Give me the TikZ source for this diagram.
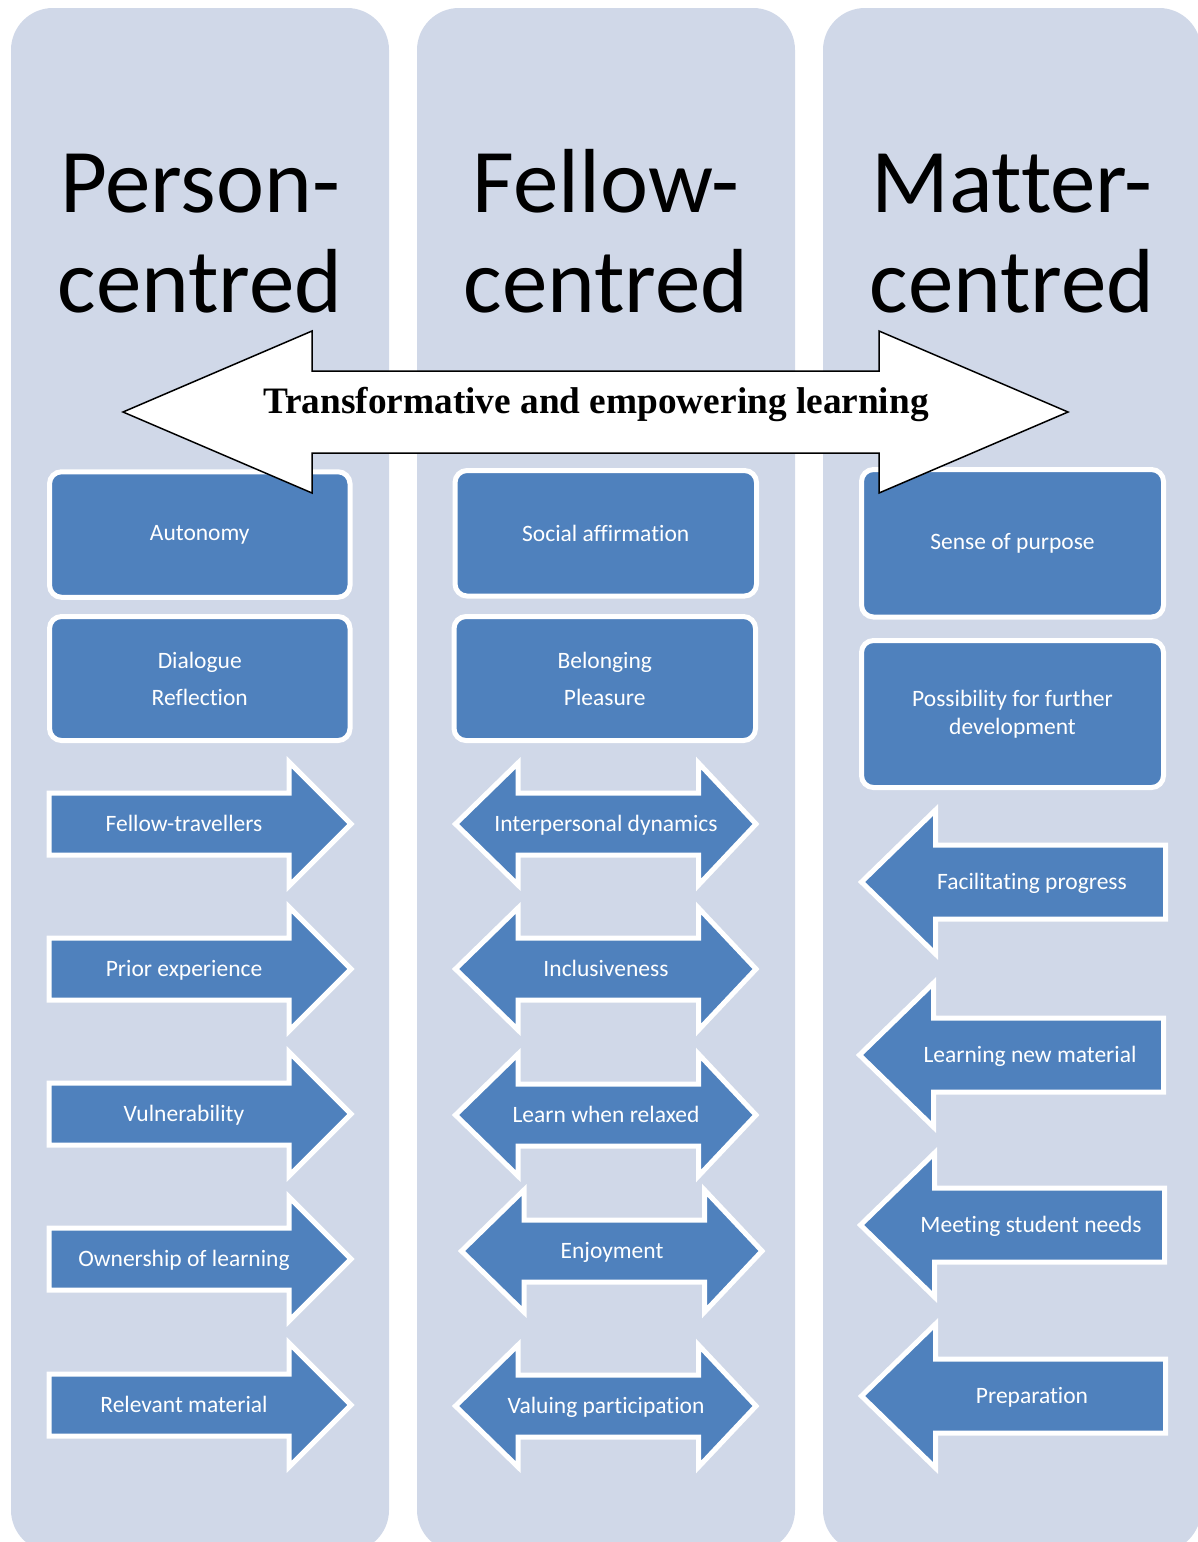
\documentclass[tikz,border=0pt]{standalone}
\usepackage{fontspec}
\setmainfont{Carlito}[Ligatures=NoCommon]
\newfontfamily\banfont{Liberation Serif}
\definecolor{panelc}{HTML}{D0D8E8}
\definecolor{boxc}{HTML}{4F81BD}
\newcommand\lblfont{\fontsize{23.5}{28}\selectfont}
\tikzset{
  panel/.style={fill=panelc, rounded corners=42pt},
  title/.style={font=\fontsize{91}{100}\selectfont, align=center, inner sep=0pt, text=black},
  box/.style={fill=boxc, draw=white, line width=5pt, rounded corners=12pt, text=white,
    font=\lblfont, align=center, inner sep=0pt},
  arrowshape/.style={fill=boxc, draw=white, line width=5pt, line join=miter},
  lbl/.style={text=white, font=\lblfont, inner sep=0pt, anchor=base},
  banner/.style={fill=white, draw=black, line width=1.5pt, line join=miter},
}
\newcommand\RArr[3]{%
  \path[arrowshape] (49,#1-31) -- (289,#1-31) -- (289,#1-62) -- (351,#1) -- (289,#1+62) -- (289,#1+31) -- (49,#1+31) -- cycle;
  \node[lbl] (#2) at (184,#1+7.5) {#3};}
\newcommand\DArr[4]{%
  \path[arrowshape] (455.5+#1,#2) -- (518+#1,#2-61) -- (518+#1,#2-31) -- (698.5+#1,#2-31) -- (698.5+#1,#2-61) -- (756+#1,#2) -- (698.5+#1,#2+61) -- (698.5+#1,#2+31) -- (518+#1,#2+31) -- (518+#1,#2+61) -- cycle;
  \node[lbl] (#3) at (606+#1,#2+7.5) {#4};}
\newcommand\LArr[4]{%
  \path[arrowshape] (861.5+#1,#2) -- (935.5+#1,#2-72) -- (935.5+#1,#2-37) -- (1165.5+#1,#2-37) -- (1165.5+#1,#2+37) -- (935.5+#1,#2+37) -- (935.5+#1,#2+72) -- cycle;
  \node[lbl] (#3) at (1032+#1,#2+7.5) {#4};}
\begin{document}
\begin{tikzpicture}[x=1pt,y=-1pt]
\useasboundingbox (0,0) rectangle (1198,1542);
\clip (0,0) rectangle (1198,1542);
\fill[white] (0,0) rectangle (1198,1542);
% panels
\fill[panel] (11,8) rectangle (389,1552);
\fill[panel] (417,8) rectangle (795,1552);
\fill[panel] (823,8) rectangle (1201,1552);
% titles
\node[title] (tperson) at (200,228) {\rule{0pt}{70pt}Person-\\centred};
\node[title] (tfellow) at (606,228) {\rule{0pt}{70pt}Fellow-\\centred};
\node[title] (tmatter) at (1012,228) {\rule{0pt}{70pt}Matter-\\centred};
% boxes
\node[box, minimum width=300.5pt, minimum height=125.5pt] (autonomy) at (199.75,534.5) {Autonomy};
\node[box, minimum width=300.5pt, minimum height=124pt, font=\fontsize{23.5}{37}\selectfont] (dialogue) at (199.75,678.5) {Dialogue\\Reflection};
\node[box, minimum width=301.5pt, minimum height=125.5pt] (social) at (605.75,533.25) {Social affirmation};
\node[box, minimum width=301.5pt, minimum height=124pt, font=\fontsize{23.5}{37}\selectfont] (belonging) at (604.75,678.5) {Belonging\\Pleasure};
\node[box, minimum width=302pt, minimum height=147.5pt] (purpose) at (1012.5,543.25) {Sense of purpose};
\node[box, minimum width=302pt, minimum height=147pt] (possibility) at (1012.5,714) {Possibility for further\\development};
% left column arrows
\RArr{824}{fellowtrav}{Fellow-travellers}
\RArr{969}{prior}{Prior experience}
\RArr{1114}{vulner}{Vulnerability}
\RArr{1259}{ownership}{Ownership of learning}
\RArr{1405}{relevant}{Relevant material}
% middle column double arrows
\DArr{0}{824}{interp}{Interpersonal dynamics}
\DArr{0}{969}{inclus}{Inclusiveness}
\DArr{0}{1115}{relaxed}{Learn when relaxed}
\DArr{6}{1251}{enjoy}{Enjoyment}
\DArr{0}{1406}{valuing}{Valuing participation}
% right column arrows
\LArr{0}{882}{facil}{Facilitating progress}
\LArr{-2}{1055}{learnnew}{Learning new material}
\LArr{-1}{1225}{meeting}{Meeting student needs}
\LArr{0}{1396}{prep}{Preparation}
% banner
\path[banner] (123,412) -- (312,331) -- (312,371) -- (879,371) -- (879,331) -- (1068,412) -- (879,493) -- (879,453) -- (312,453) -- (312,493) -- cycle;
\node[anchor=base, inner sep=0pt, font=\banfont\bfseries\fontsize{37.3}{40}\selectfont] (bannertext) at (596,413) {Transformative and empowering learning};
\end{tikzpicture}
\end{document}
